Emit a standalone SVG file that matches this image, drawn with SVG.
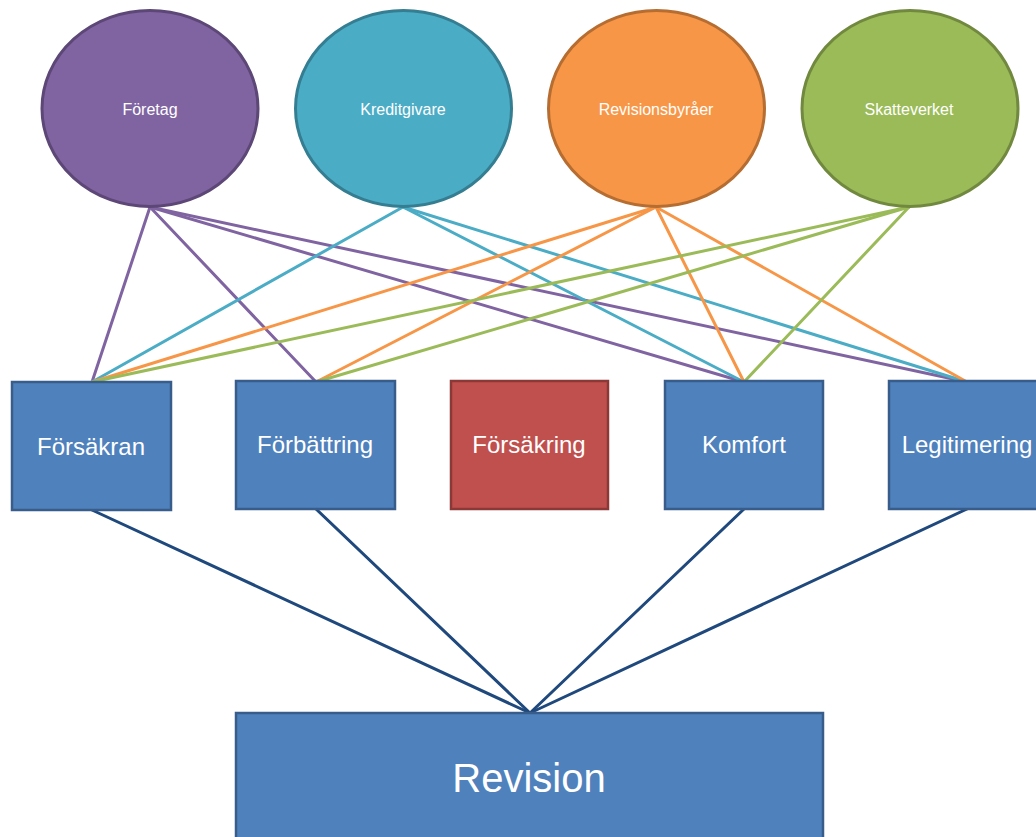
<svg xmlns="http://www.w3.org/2000/svg" width="1036" height="837" viewBox="0 0 1036 837">
<style>
.lbl{font-family:"Liberation Sans",Arial,sans-serif;fill:#ffffff;text-anchor:middle}
.small{font-size:16px}
.mid{font-size:24px}
.big{font-size:40px}
.box{fill:#4F81BD;stroke:#385D8A;stroke-width:2.5}
.red{fill:#C0504D;stroke:#8C3836;stroke-width:2.5}
.c{fill:none;stroke-width:3;stroke-linecap:round}
.p{stroke:#8064A2}.b{stroke:#4BACC6}.o{stroke:#F79646}.g{stroke:#9BBB59}.d{stroke:#1F497D}
</style>
<rect width="1036" height="837" fill="#ffffff"/>
<g id="connectors">
<line class="c p" x1="150" y1="207" x2="92" y2="382"/>
<line class="c p" x1="150" y1="207" x2="316" y2="382"/>
<line class="c p" x1="150" y1="207" x2="744" y2="382"/>
<line class="c p" x1="150" y1="207" x2="967" y2="382"/>
<line class="c b" x1="403" y1="207" x2="92" y2="382"/>
<line class="c b" x1="403" y1="207" x2="744" y2="382"/>
<line class="c b" x1="403" y1="207" x2="967" y2="382"/>
<line class="c o" x1="656" y1="207" x2="92" y2="382"/>
<line class="c o" x1="656" y1="207" x2="316" y2="382"/>
<line class="c o" x1="656" y1="207" x2="744" y2="382"/>
<line class="c o" x1="656" y1="207" x2="967" y2="382"/>
<line class="c g" x1="909" y1="207" x2="92" y2="382"/>
<line class="c g" x1="909" y1="207" x2="316" y2="382"/>
<line class="c g" x1="909" y1="207" x2="744" y2="382"/>
<line class="c d" x1="92" y1="510" x2="530" y2="713"/>
<line class="c d" x1="316" y1="509" x2="530" y2="713"/>
<line class="c d" x1="744" y1="509" x2="530" y2="713"/>
<line class="c d" x1="967" y1="509" x2="530" y2="713"/>
</g>
<g id="foretag">
<ellipse cx="150" cy="108.5" rx="108" ry="98" fill="#8064A2" stroke="#5C4776" stroke-width="3"/>
<text class="lbl small" x="150" y="115">Företag</text>
</g>
<g id="kreditgivare">
<ellipse cx="403.5" cy="108.5" rx="108" ry="98" fill="#4BACC6" stroke="#357D91" stroke-width="3"/>
<text class="lbl small" x="403" y="115">Kreditgivare</text>
</g>
<g id="revisionsbyraer">
<ellipse cx="656.5" cy="108.5" rx="108" ry="98" fill="#F79646" stroke="#B66D31" stroke-width="3"/>
<text class="lbl small" x="656" y="115">Revisionsbyråer</text>
</g>
<g id="skatteverket">
<ellipse cx="910" cy="108.5" rx="108" ry="98" fill="#9BBB59" stroke="#71893F" stroke-width="3"/>
<text class="lbl small" x="909" y="115">Skatteverket</text>
</g>
<g id="forsakran">
<rect class="box" x="12" y="382" width="159" height="128"/>
<text class="lbl mid" x="91" y="455">Försäkran</text>
</g>
<g id="forbattring">
<rect class="box" x="236" y="381" width="159" height="128"/>
<text class="lbl mid" x="315" y="453">Förbättring</text>
</g>
<g id="forsakring">
<rect class="red" x="451" y="381" width="157" height="128"/>
<text class="lbl mid" x="529" y="453">Försäkring</text>
</g>
<g id="komfort">
<rect class="box" x="665" y="381" width="158" height="128"/>
<text class="lbl mid" x="744" y="453">Komfort</text>
</g>
<g id="legitimering">
<rect class="box" x="889" y="381" width="158" height="128"/>
<text class="lbl mid" x="967" y="453">Legitimering</text>
</g>
<g id="revision">
<rect class="box" x="236" y="713" width="587" height="140"/>
<text class="lbl big" x="529" y="792">Revision</text>
</g>
</svg>
